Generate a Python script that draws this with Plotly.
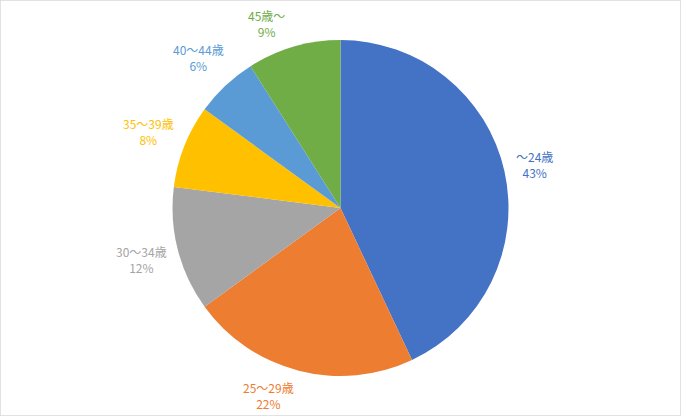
import math
import plotly.graph_objects as go

labels = ["～24歳", "25～29歳", "30～34歳", "35～39歳", "40～44歳", "45歳～"]
values = [43, 22, 12, 8, 6, 9]
colors = ["#4472C4", "#ED7D31", "#A5A5A5", "#FFC000", "#5B9BD5", "#70AD47"]

W, H = 681, 416
# pie placement (pixels)
cx, cy, R = 340.5, 208.0, 168.0
dom_x = [(cx - R) / W, (cx + R) / W]
dom_y = [(H - cy - R) / H, (H - cy + R) / H]

fig = go.Figure(go.Pie(
    labels=labels,
    values=values,
    sort=False,
    direction="clockwise",
    rotation=0,
    marker=dict(colors=colors, line=dict(width=0)),
    textinfo="none",
    domain=dict(x=dom_x, y=dom_y),
    showlegend=False,
    hoverinfo="label+percent",
))

# label placement following the slice mid-angles (Excel-like best fit outside)
total = sum(values)
annotations = []
cum = 0.0
gap = 10.0
half_h = 17.0
ymin, ymax = 23.0, 395.0
for lab, v, col in zip(labels, values, colors):
    mid = (cum + v / 2) / total * 2 * math.pi
    cum += v
    s, c = math.sin(mid), math.cos(mid)
    wide = sum(1 for ch in lab if ord(ch) > 255)
    narrow = len(lab) - wide
    half_w = (12 * wide + 6 * narrow) / 2
    d = R + gap + half_w * abs(s) + half_h * abs(c)
    px, py = cx + d * s, cy - d * c
    if py < ymin or py > ymax:
        py = ymin if py < ymin else ymax
        cc = (cy - py) / d
        ss = math.copysign(math.sqrt(max(0.0, 1 - cc * cc)), s)
        px = cx + d * ss
    pct = round(v / total * 100)
    annotations.append(dict(
        x=px / W, y=1 - py / H, xref="paper", yref="paper",
        text=f"{lab}<br>{pct}%", showarrow=False,
        xanchor="center", yanchor="middle", align="center",
        font=dict(color=col, size=12, family="Noto Sans CJK JP"),
    ))

fig.update_layout(
    width=W, height=H,
    margin=dict(l=0, r=0, t=0, b=0),
    paper_bgcolor="white",
    plot_bgcolor="white",
    annotations=annotations,
    shapes=[dict(type="rect", xref="paper", yref="paper", x0=0, y0=0, x1=1, y1=1,
                 line=dict(color="#D9D9D9", width=1.5))],
)

fig.write_html("out.html", config={"displayModeBar": False},
               post_script="document.body.style.margin='0';document.body.style.overflow='hidden';")
